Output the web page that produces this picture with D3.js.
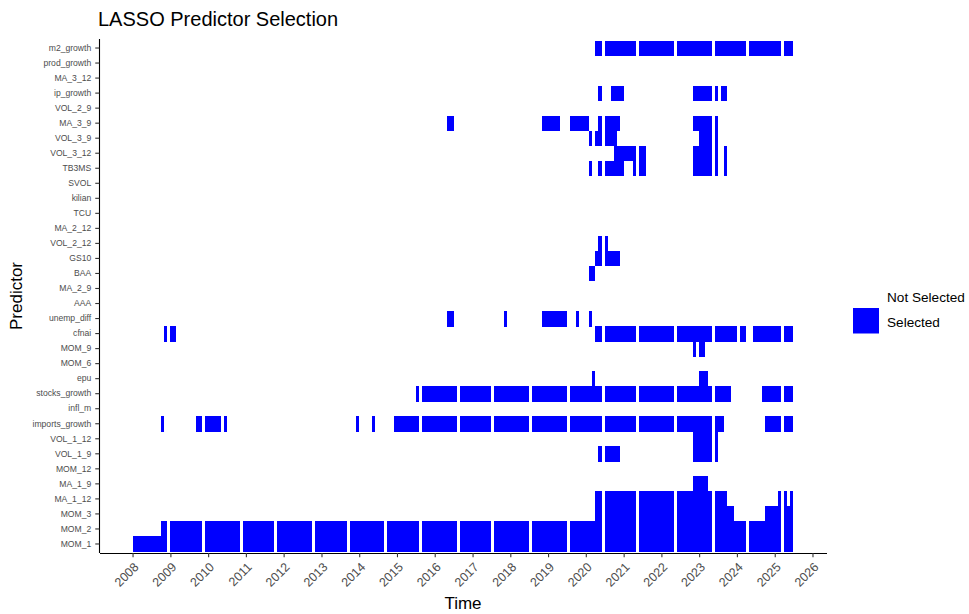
<!DOCTYPE html>
<html><head><meta charset="utf-8">
<script src="https://cdn.jsdelivr.net/npm/d3@7"></script>
<style>
body{margin:0;background:#fff;}
text{font-family:"Liberation Sans",Arial,Helvetica,sans-serif;}
</style>
</head><body>
<svg id="chart" width="969" height="614"></svg>
<script>
// ---------------- DATA ----------------
const predictors = ["m2_growth","prod_growth","MA_3_12","ip_growth","VOL_2_9","MA_3_9","VOL_3_9","VOL_3_12","TB3MS","SVOL","kilian","TCU","MA_2_12","VOL_2_12","GS10","BAA","MA_2_9","AAA","unemp_diff","cfnai","MOM_9","MOM_6","epu","stocks_growth","infl_m","imports_growth","VOL_1_12","VOL_1_9","MOM_12","MA_1_9","MA_1_12","MOM_3","MOM_2","MOM_1"];

const firstMonth = "2008-01";
const lastMonth = "2025-06";
// months absent from the estimation dates (white gaps)
const missingMonths = ["2008-12","2009-11","2010-11","2011-10","2012-10","2013-09","2014-09","2015-08","2016-08","2017-07","2018-07","2019-07","2020-06","2021-05","2022-05","2023-05","2024-04","2025-03"];

// [predictor, first selected month, last selected month]
const selectionRuns = [
  ["m2_growth","2020-04","2025-06"],
  ["ip_growth","2020-05","2020-05"],["ip_growth","2020-09","2020-12"],["ip_growth","2022-11","2023-04"],["ip_growth","2023-06","2023-06"],["ip_growth","2023-08","2023-09"],
  ["MA_3_9","2016-05","2016-06"],["MA_3_9","2018-11","2019-04"],["MA_3_9","2019-08","2020-01"],["MA_3_9","2020-05","2020-05"],["MA_3_9","2020-07","2020-11"],["MA_3_9","2022-11","2023-04"],["MA_3_9","2023-06","2023-06"],
  ["VOL_3_9","2020-02","2020-02"],["VOL_3_9","2020-04","2020-05"],["VOL_3_9","2020-07","2020-10"],["VOL_3_9","2023-01","2023-04"],["VOL_3_9","2023-06","2023-06"],
  ["VOL_3_12","2020-10","2021-04"],["VOL_3_12","2021-06","2021-07"],["VOL_3_12","2022-11","2023-04"],["VOL_3_12","2023-06","2023-06"],["VOL_3_12","2023-09","2023-09"],
  ["TB3MS","2020-02","2020-02"],["TB3MS","2020-05","2020-05"],["TB3MS","2020-07","2020-12"],["TB3MS","2021-04","2021-04"],["TB3MS","2021-06","2021-07"],["TB3MS","2022-11","2023-04"],["TB3MS","2023-06","2023-06"],["TB3MS","2023-09","2023-09"],
  ["VOL_2_12","2020-05","2020-05"],["VOL_2_12","2020-07","2020-07"],
  ["GS10","2020-04","2020-05"],["GS10","2020-07","2020-11"],
  ["BAA","2020-02","2020-03"],
  ["unemp_diff","2016-05","2016-06"],["unemp_diff","2017-11","2017-11"],["unemp_diff","2018-11","2019-06"],["unemp_diff","2019-10","2019-10"],["unemp_diff","2020-02","2020-02"],
  ["cfnai","2008-11","2008-11"],["cfnai","2009-01","2009-02"],["cfnai","2020-04","2023-12"],["cfnai","2024-02","2024-03"],["cfnai","2024-06","2025-06"],
  ["MOM_9","2022-11","2022-11"],["MOM_9","2023-01","2023-02"],
  ["epu","2020-03","2020-03"],["epu","2023-01","2023-03"],
  ["stocks_growth","2015-07","2015-07"],["stocks_growth","2015-09","2023-04"],["stocks_growth","2023-06","2023-10"],["stocks_growth","2024-09","2025-06"],
  ["imports_growth","2008-10","2008-10"],["imports_growth","2009-09","2009-10"],["imports_growth","2009-12","2010-04"],["imports_growth","2010-06","2010-06"],["imports_growth","2013-12","2013-12"],["imports_growth","2014-05","2014-05"],["imports_growth","2014-12","2023-04"],["imports_growth","2023-06","2023-08"],["imports_growth","2024-10","2025-06"],
  ["VOL_1_12","2022-11","2023-04"],["VOL_1_12","2023-06","2023-06"],
  ["VOL_1_9","2020-05","2020-05"],["VOL_1_9","2020-07","2020-11"],["VOL_1_9","2022-11","2023-04"],["VOL_1_9","2023-06","2023-06"],
  ["MA_1_9","2022-11","2023-03"],
  ["MA_1_12","2020-04","2023-09"],["MA_1_12","2025-02","2025-02"],["MA_1_12","2025-04","2025-04"],["MA_1_12","2025-06","2025-06"],
  ["MOM_3","2020-04","2023-11"],["MOM_3","2024-10","2025-06"],
  ["MOM_2","2008-10","2025-06"],
  ["MOM_1","2008-01","2025-06"]
];

const yearTicks = [2008,2009,2010,2011,2012,2013,2014,2015,2016,2017,2018,2019,2020,2021,2022,2023,2024,2025,2026];
const legendLabels = ["Not Selected","Selected"];
const legendColors = ["#FFFFFF","#0000FF"];

// ---------------- CHART ----------------
const svg = d3.select("#chart");
const panel = {left: 99.5, right: 826.5, top: 39, bottom: 553};
const parseM = d3.utcParse("%Y-%m");

const allMonths = d3.utcMonth.range(parseM(firstMonth), d3.utcMonth.offset(parseM(lastMonth), 1));
const missingSet = new Set(missingMonths);
const fmtM = d3.utcFormat("%Y-%m");
const dates = allMonths.filter(d => !missingSet.has(fmtM(d)));

const t0 = parseM(firstMonth), t1 = d3.utcMonth.offset(parseM(lastMonth), 1);
const span = t1 - t0;
const x = d3.scaleUtc()
  .domain([new Date(+t0 - 0.05 * span), new Date(+t1 + 0.05 * span)])
  .range([panel.left, panel.right]);

const y = d3.scaleBand()
  .domain(predictors)
  .range([panel.top, panel.bottom])
  .paddingInner(0).paddingOuter(0.1);

// build merged blocks (consecutive available months selected)
const blocks = [];
predictors.forEach(p => {
  const runs = selectionRuns.filter(r => r[0] === p).map(r => [parseM(r[1]), parseM(r[2])]);
  const sel = dates.filter(d => runs.some(r => d >= r[0] && d <= r[1]));
  let cur = null;
  sel.forEach(d => {
    if (cur && +d3.utcMonth.offset(cur.end, 1) === +d) {
      cur.end = d;
    } else {
      if (cur) blocks.push(cur);
      cur = {p: p, start: d, end: d};
    }
  });
  if (cur) blocks.push(cur);
});

svg.append("g").attr("shape-rendering", "crispEdges")
  .selectAll("rect").data(blocks).join("rect")
  .attr("x", d => x(d.start))
  .attr("width", d => x(d3.utcMonth.offset(d.end, 1)) - x(d.start))
  .attr("y", d => y(d.p))
  .attr("height", y.bandwidth() + 0.5)
  .attr("fill", legendColors[1]);

// x axis
const xAxis = d3.axisBottom(x)
  .tickValues(yearTicks.map(yr => new Date(Date.UTC(yr, 0, 1))))
  .tickFormat(d3.utcFormat("%Y"))
  .tickSize(4.25).tickSizeOuter(0);
const gx = svg.append("g").attr("transform", `translate(0,${panel.bottom})`).call(xAxis);
gx.select(".domain").attr("stroke", "#000").attr("stroke-width", 1.1);
gx.selectAll(".tick line").attr("stroke", "#333").attr("stroke-width", 1.1);
gx.selectAll(".tick text")
  .attr("x", 0).attr("y", 0).attr("dy", "0.72em")
  .attr("text-anchor", "end")
  .attr("transform", "translate(0,8.5) rotate(-45)")
  .attr("fill", "#4D4D4D")
  .style("font-size", "12.5px");

// y axis
const yAxis = d3.axisLeft(y).tickSize(4.25).tickSizeOuter(0).tickPadding(4);
const gy = svg.append("g").attr("transform", `translate(${panel.left},0)`).call(yAxis);
gy.select(".domain").attr("stroke", "#000").attr("stroke-width", 1.1)
  .attr("d", `M0,${panel.top}V${panel.bottom}`);
gy.selectAll(".tick line").attr("stroke", "#333").attr("stroke-width", 1.1);
gy.selectAll(".tick text").attr("fill", "#4D4D4D").style("font-size", "8.6px");

// titles
svg.append("text").attr("x", 98).attr("y", 26)
  .style("font-size", "20px").attr("fill", "#000").text("LASSO Predictor Selection");
svg.append("text").attr("x", (panel.left + panel.right) / 2).attr("y", 609)
  .attr("text-anchor", "middle").style("font-size", "17px").attr("fill", "#000").text("Time");
svg.append("text").attr("transform", `translate(22,${(panel.top + panel.bottom) / 2}) rotate(-90)`)
  .attr("text-anchor", "middle").style("font-size", "17px").attr("fill", "#000").text("Predictor");

// legend
const lg = svg.append("g").attr("transform", "translate(853,282.5)");
legendLabels.forEach((lab, i) => {
  lg.append("rect").attr("x", 0).attr("y", i * 25.5).attr("width", 26).attr("height", 25.5)
    .attr("fill", legendColors[i]);
  lg.append("text").attr("x", 34).attr("y", i * 25.5 + 14.5).attr("dy", "0.35em")
    .style("font-size", "13.6px").attr("fill", "#000").text(lab);
});
</script>
</body></html>
